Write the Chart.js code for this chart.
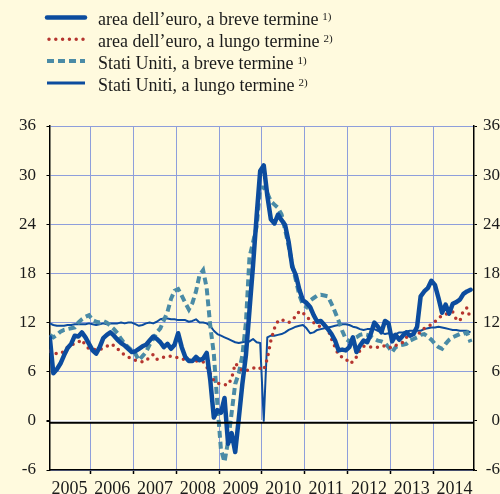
<!DOCTYPE html>
<html><head><meta charset="utf-8">
<script src="https://cdn.jsdelivr.net/npm/chart.js@4"></script>
<style>html,body{margin:0;padding:0;background:#FFFADE;}canvas{display:block}</style>
</head><body>
<canvas id="c" width="500" height="494"></canvas>
<script>
// monthly categories Jan 2005 .. Nov 2014
const months = [];
for (let y = 2005; y <= 2014; y++) for (let m = 1; m <= 12; m++) if (!(y === 2014 && m === 12)) months.push(y + '-' + String(m).padStart(2, '0'));

const euroShort = [
 10.2, 5.8, 6.3, 7.0, 8.0, 8.9, 9.4, 10.4, 10.3, 10.8, 10.2, 9.4,
 8.6, 8.2, 9.0, 10.1, 10.5, 10.8, 10.4, 9.9, 9.5, 9.2, 8.8, 8.4,
 8.5, 8.8, 9.1, 9.3, 9.8, 10.3, 10.0, 9.6, 9.0, 9.4, 8.8, 9.3,
 10.7, 9.0, 7.8, 7.3, 7.3, 7.8, 7.4, 7.6, 8.3, 5.0, 0.4, 1.3,
 1.0, 2.8, -2.8, -1.5, -3.8, 0.3, 4.5, 8.0, 13.5, 19.0, 25.0, 30.5,
 31.2, 27.5, 24.6, 24.1, 25.2, 24.5, 23.9, 21.8, 18.8, 17.8, 16.0, 14.7,
 14.4, 13.9, 12.9, 12.1, 12.2, 11.7, 11.2, 10.6, 9.8, 8.6, 8.7, 8.6,
 9.0, 10.2, 8.4, 9.2, 9.8, 9.6, 10.6, 12.0, 11.5, 10.8, 12.2, 11.9,
 9.7, 10.5, 9.9, 10.4, 10.8, 10.4, 10.6, 11.5, 15.2, 15.8, 16.2, 17.1,
 16.6, 15.0, 13.2, 14.2, 13.1, 14.3, 14.5, 14.8, 15.5, 15.8, 16.0
];
const euroLong = [
 8.5, 8.3, 8.2, 8.2, 8.5, 9.0, 9.3, 9.4, 9.6, 9.9, 9.2, 8.8,
 8.7, 8.7, 8.7, 8.9, 9.1, 9.4, 9.2, 8.8, 8.3, 8.1, 7.8, 7.6,
 7.4, 7.3, 7.2, 7.3, 7.8, 8.1, 7.5, 7.6, 7.8, 7.9, 7.9, 7.8,
 7.7, 7.6, 7.4, 7.4, 7.4, 7.3, 7.3, 7.2, 6.6, 5.8, 4.9, 4.6,
 4.5, 4.4, 4.4, 5.2, 7.0, 6.6, 6.1, 6.1, 6.3, 6.4, 6.6, 6.4,
 6.2, 7.6, 9.8, 11.3, 12.2, 12.4, 12.1, 12.0, 12.3, 12.8, 13.4, 13.2,
 12.7, 12.3, 12.0, 11.6, 11.5, 11.5, 11.2, 10.0, 9.0, 8.0, 7.8, 7.6,
 7.0, 7.2, 7.8, 8.6, 9.1, 9.1, 9.0, 9.0, 9.0, 9.0, 9.2, 9.0,
 8.9, 9.2, 9.4, 9.6, 10.2, 10.4, 10.6, 10.6, 10.8, 11.3, 11.6, 11.7,
 12.1, 12.5, 12.9, 13.0, 13.2, 13.3, 12.4, 12.2, 13.5, 13.8, 12.4
];
const usShort = [
 10.5, 10.2, 10.5, 10.9, 11.1, 11.2, 11.3, 11.4, 12.0, 12.4, 12.7, 12.9,
 12.3, 12.1, 12.0, 12.2, 12.0, 11.6, 11.2, 10.7, 10.0, 9.4, 9.0, 8.6,
 8.2, 7.4, 7.9, 8.4, 9.3, 10.0, 10.8, 11.3, 12.3, 13.3, 14.9, 15.9,
 16.1, 15.3, 14.4, 13.6, 14.4, 15.8, 17.8, 18.4, 16.2, 11.6, 8.2, 2.0,
 -3.5, -5.0, -2.5, 1.0, 4.5, 5.8, 8.0, 12.0, 20.0, 21.8, 23.7, 28.5,
 28.5, 27.8, 26.8, 26.4, 26.0, 25.2, 23.3, 21.3, 19.0, 17.2, 15.3, 14.2,
 13.9, 14.7, 15.0, 15.3, 15.4, 15.3, 15.2, 14.3, 13.3, 12.2, 11.0, 10.0,
 9.7, 10.0, 10.2, 10.5, 10.6, 10.5, 10.3, 10.0, 9.8, 9.7, 9.5, 9.0,
 8.4, 9.0, 9.2, 9.3, 9.4, 9.8, 10.0, 10.2, 10.5, 10.6, 10.3, 9.9,
 9.4, 9.0, 8.8, 9.4, 9.9, 10.2, 10.4, 10.6, 10.6, 10.8, 9.6
];
const usLong = [
 11.9, 11.7, 11.6, 11.6, 11.6, 11.7, 11.7, 11.8, 11.8, 11.8, 11.8, 11.9,
 11.8, 11.7, 11.8, 11.9, 11.8, 11.9, 11.9, 11.9, 12.0, 11.9, 12.0, 12.0,
 11.8, 11.6, 11.7, 11.9, 12.0, 11.9, 12.1, 12.4, 12.5, 12.5, 12.4, 12.4,
 12.3, 12.3, 12.3, 12.1, 12.2, 12.4, 12.0, 12.0, 11.9, 11.6, 11.0, 10.6,
 10.4, 10.2, 10.0, 9.8, 9.6, 9.5, 9.6, 9.7, 9.7, 10.0, 9.6, 9.5,
 0.0, 10.2, 10.4, 10.4, 10.5, 10.6, 10.8, 11.1, 11.3, 11.5, 11.6, 11.7,
 11.3, 10.7, 10.8, 11.1, 11.2, 11.3, 11.4, 11.5, 11.6, 11.7, 11.8, 11.8,
 11.7, 11.5, 11.4, 11.2, 11.1, 11.2, 11.2, 11.2, 11.0, 10.8, 10.6, 10.7,
 10.5, 10.6, 10.8, 10.8, 10.9, 11.0, 11.0, 11.0, 11.0, 11.2, 11.3, 11.4,
 11.4, 11.5, 11.4, 11.3, 11.2, 11.1, 11.1, 11.0, 11.0, 11.0, 10.8
];
const yTicks = [-6, 0, 6, 12, 18, 24, 30, 36];
const yearLabels = ['2005','2006','2007','2008','2009','2010','2011','2012','2013','2014'];
const legendLabels = ['area dell\u2019euro, a breve termine', 'area dell\u2019euro, a lungo termine', 'Stati Uniti, a breve termine', 'Stati Uniti, a lungo termine'];
const legendNotes = ['1)', '2)', '1)', '2)'];

const BG = '#FFFADE', GRID = '#8E9EDB', BLUE = '#0C4C9E', RED = '#B5352F', TEAL = '#4A8BA6', TXT = '#1a1a1a';
const FONT = "'Liberation Serif', 'Times New Roman', serif";

function toX(s) { const p = s.split('-').map(Number); return p[0] + (p[1] - 0.5) / 12; }
function pts(arr) { return arr.map((v, i) => ({ x: toX(months[i]), y: v })); }

const bgPlugin = { id: 'bg', beforeDraw(c) { const ctx = c.ctx; ctx.save(); ctx.fillStyle = BG; ctx.fillRect(0, 0, c.width, c.height); ctx.restore(); } };
const zeroPlugin = { id: 'zero', afterDatasetsDraw(c) {
  const ctx = c.ctx, a = c.chartArea, y = c.scales.y.getPixelForValue(0) + 2;
  ctx.save(); ctx.strokeStyle = '#000'; ctx.lineWidth = 2; ctx.beginPath(); ctx.moveTo(a.left, y); ctx.lineTo(a.right, y); ctx.stroke(); ctx.restore();
} };
const legendPlugin = { id: 'lg', afterDraw(c) {
  const ctx = c.ctx; ctx.save();
  const widths = [4.5, 3.5, 4, 3];
  c.data.datasets.forEach((ds, i) => {
    const sy = 17.5 + 21.8 * i, ty = sy + 7.8;
    ctx.strokeStyle = ds.borderColor; ctx.lineWidth = widths[i];
    ctx.setLineDash(ds.borderDash || []); ctx.lineCap = ds.borderCapStyle || 'butt';
    ctx.beginPath(); ctx.moveTo(i === 1 ? 49 : 47, sy); ctx.lineTo(85, sy); ctx.stroke();
    ctx.setLineDash([]);
    ctx.fillStyle = TXT; ctx.textBaseline = 'alphabetic'; ctx.textAlign = 'left';
    ctx.font = '18px ' + FONT; ctx.fillText(legendLabels[i], 98, ty);
    const w = ctx.measureText(legendLabels[i]).width;
    ctx.font = '11px ' + FONT; ctx.fillText(legendNotes[i], 98 + w + 4, ty - 5);
  });
  ctx.restore();
} };

new Chart(document.getElementById('c'), {
  type: 'line',
  data: { datasets: [
    { label: legendLabels[0], data: pts(euroShort), borderColor: BLUE, borderWidth: 4.5, borderJoinStyle: 'round', borderCapStyle: 'round' },
    { label: legendLabels[1], data: pts(euroLong), borderColor: RED, borderWidth: 3.5, borderDash: [0, 6.8], borderCapStyle: 'round' },
    { label: legendLabels[2], data: pts(usShort), borderColor: TEAL, borderWidth: 4, borderDash: [7, 4], borderCapStyle: 'butt' },
    { label: legendLabels[3], data: pts(usLong), borderColor: BLUE, borderWidth: 2, borderJoinStyle: 'round' }
  ] },
  options: {
    responsive: false, animation: false,
    layout: { padding: { top: 126, left: 19, right: 0, bottom: 0 } },
    elements: { point: { radius: 0 }, line: { tension: 0, fill: false } },
    plugins: { legend: { display: false }, tooltip: { enabled: false } },
    scales: {
      x: {
        type: 'linear', min: 2005.035, max: 2014.955,
        afterBuildTicks(s) { const t = []; yearLabels.forEach(l => { const y = +l; if (y > s.min) t.push({ value: y }); t.push({ value: y + 0.5 }); }); s.ticks = t; },
        afterFit(s) { s.height = 24; },
        grid: { color: c => Number.isInteger(c.tick.value) ? GRID : 'rgba(0,0,0,0)', tickColor: c => Number.isInteger(c.tick.value) ? '#000' : 'rgba(0,0,0,0)', tickLength: 4, lineWidth: 1, tickWidth: 1.5 },
        border: { color: '#000', width: 1.5 },
        ticks: { autoSkip: false, maxRotation: 0, padding: 4, color: TXT, font: { family: FONT, size: 18 },
          callback: v => Number.isInteger(v) ? '' : yearLabels[Math.floor(v) - 2005] }
      },
      y: {
        position: 'left', min: -6, max: 36,
        afterBuildTicks(s) { s.ticks = yTicks.map(v => ({ value: v })); },
        afterFit(s) { s.width = 30.5; },
        grid: { color: c => c.tick.value === 0 ? '#FFFFFF' : GRID, lineWidth: c => c.tick.value === 0 ? 2 : 1, tickColor: '#000', tickLength: 3 },
        border: { color: '#000', width: 1.5 },
        ticks: { padding: 10.5, color: TXT, font: { family: FONT, size: 17 } }
      },
      y2: {
        position: 'right', min: -6, max: 36,
        afterBuildTicks(s) { s.ticks = yTicks.map(v => ({ value: v })); },
        afterFit(s) { s.width = 26; },
        grid: { drawOnChartArea: false, tickColor: '#000', tickLength: 3 },
        border: { color: '#000', width: 1.5 },
        ticks: { padding: 6, crossAlign: 'far', color: TXT, font: { family: FONT, size: 17 } }
      }
    }
  },
  plugins: [bgPlugin, zeroPlugin, legendPlugin]
});
</script>
</body></html>
